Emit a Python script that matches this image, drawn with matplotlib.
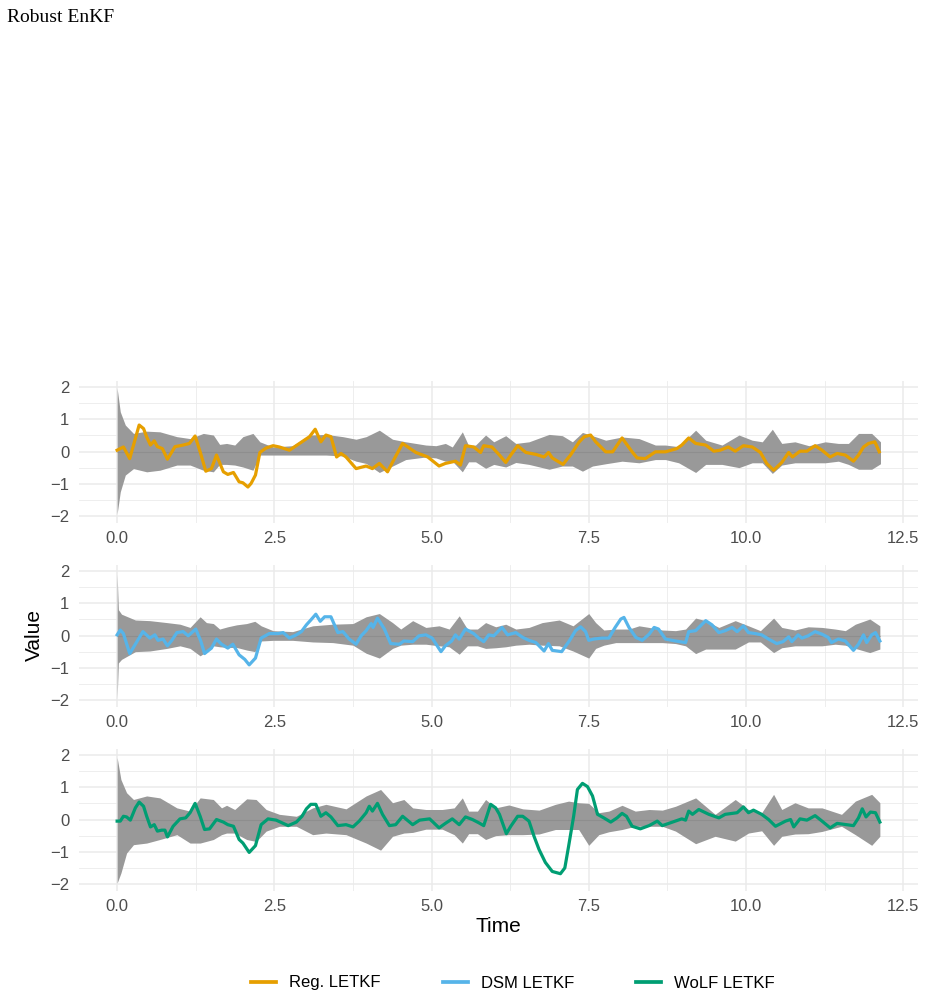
import numpy as np
import matplotlib
matplotlib.use("Agg")
import matplotlib.pyplot as plt
from matplotlib.ticker import MultipleLocator
from matplotlib.lines import Line2D

# ---- data ----
labels = ["Reg. LETKF", "DSM LETKF", "WoLF LETKF"]
colors = ["#E69F00", "#56B4E9", "#009E73"]

reg_t = [0, 0.1, 0.2, 0.35, 0.42, 0.47, 0.53, 0.59, 0.64, 0.72, 0.8, 0.92, 1.05, 1.15, 1.24,
         1.32, 1.41, 1.5, 1.58, 1.69, 1.76, 1.85, 1.94, 2.0, 2.08, 2.13, 2.2, 2.27, 2.37, 2.48,
         2.58, 2.74, 2.9, 3.06, 3.15, 3.24, 3.32, 3.4, 3.49, 3.56, 3.64, 3.8, 3.96, 4.06, 4.17,
         4.3, 4.41, 4.54, 4.75, 4.94, 5.12, 5.22, 5.38, 5.46, 5.54, 5.67, 5.78, 5.83, 5.96, 6.08,
         6.18, 6.26, 6.37, 6.5, 6.66, 6.79, 6.86, 6.92, 7.09, 7.21, 7.35, 7.43, 7.53, 7.61, 7.77,
         7.88, 8.03, 8.19, 8.27, 8.4, 8.56, 8.72, 8.9, 8.98, 9.09, 9.2, 9.36, 9.49, 9.59, 9.72,
         9.83, 9.96, 10.1, 10.23, 10.33, 10.44, 10.57, 10.68, 10.74, 10.86, 10.97, 11.1, 11.21,
         11.34, 11.45, 11.58, 11.71, 11.79, 11.87, 11.95, 12.05, 12.12]
reg_v = [0.04, 0.14, -0.22, 0.82, 0.71, 0.45, 0.2, 0.33, 0.15, 0.09, -0.24, 0.15, 0.2, 0.25, 0.48,
         -0.01, -0.61, -0.53, -0.11, -0.63, -0.71, -0.65, -0.94, -0.97, -1.1, -0.99, -0.73, -0.03, 0.11, 0.18,
         0.14, 0.04, 0.25, 0.46, 0.69, 0.3, 0.51, 0.46, -0.17, -0.06, -0.17, -0.53, -0.45, -0.53, -0.37,
         -0.63, -0.22, 0.25, -0.03, -0.17, -0.45, -0.37, -0.3, -0.42, 0.18, 0.14, -0.03, 0.18, 0.14, -0.11,
         -0.34, -0.11, 0.18, -0.03, -0.09, -0.17, -0.03, -0.2, -0.4, -0.11, 0.3, 0.46, 0.51, 0.3, -0.01,
         -0.01, 0.42, -0.01, -0.2, -0.22, -0.01, -0.01, 0.09, 0.2, 0.42, 0.25, 0.2, 0.01, 0.04, 0.14,
         0.01, 0.18, 0.14, -0.03, -0.37, -0.58, -0.34, -0.03, -0.17, 0.01, 0.01, 0.18, 0.04,
         -0.17, -0.06, -0.11, -0.3, -0.11, 0.14, 0.25, 0.3, -0.01]

dsm_t = [0, 0.05, 0.1, 0.2, 0.29, 0.41, 0.52, 0.6, 0.65, 0.73, 0.8, 0.87, 0.95, 1.05, 1.13,
         1.25, 1.33, 1.39, 1.5, 1.58, 1.66, 1.76, 1.84, 1.94, 2.03, 2.1, 2.2, 2.29, 2.42, 2.56,
         2.64, 2.74, 2.85, 2.93, 3.01, 3.08, 3.16, 3.23, 3.3, 3.4, 3.51, 3.59, 3.69, 3.8, 3.88,
         3.96, 4.04, 4.07, 4.14, 4.25, 4.35, 4.49, 4.56, 4.7, 4.8, 4.91, 5.01, 5.15, 5.22, 5.32,
         5.38, 5.44, 5.54, 5.67, 5.75, 5.83, 5.91, 5.99, 6.12, 6.21, 6.34, 6.45, 6.55, 6.66, 6.79,
         6.86, 6.92, 7.07, 7.19, 7.29, 7.37, 7.45, 7.5, 7.58, 7.71, 7.82, 7.92, 8.01, 8.06, 8.14,
         8.25, 8.35, 8.46, 8.54, 8.61, 8.72, 8.88, 9.04, 9.09, 9.2, 9.36, 9.46, 9.57, 9.67, 9.78,
         9.86, 9.96, 10.04, 10.15, 10.25, 10.36, 10.49, 10.59, 10.68, 10.73, 10.83, 10.89, 10.99,
         11.1, 11.21, 11.31, 11.36, 11.47, 11.58, 11.71, 11.79, 11.87, 11.92, 12.0, 12.06, 12.13]
dsm_v = [0.02, 0.17, 0.06, -0.56, -0.27, 0.12, -0.08, 0.02, -0.15, -0.11, -0.32, -0.15, 0.09, 0.12, -0.01,
         0.2, -0.17, -0.56, -0.39, -0.11, -0.27, -0.39, -0.27, -0.6, -0.74, -0.91, -0.7, -0.08, 0.06, 0.06,
         0.09, -0.08, 0.02, 0.12, 0.33, 0.48, 0.66, 0.44, 0.58, 0.58, 0.09, 0.12, -0.11, -0.27, -0.01,
         0.15, 0.37, 0.25, 0.54, 0.2, -0.25, -0.27, -0.17, -0.19, -0.01, 0.02, -0.08, -0.5, -0.32, -0.17,
         0.02, -0.11, 0.2, 0.06, -0.08, -0.19, 0.02, -0.01, 0.25, 0.02, 0.09, -0.06, -0.15, -0.22, -0.48,
         -0.25, -0.46, -0.5, -0.17, 0.15, 0.27, 0.12, -0.15, -0.11, -0.08, -0.08, 0.25, 0.51, 0.56, 0.25,
         -0.06, -0.15, 0.04, 0.25, 0.2, -0.11, -0.17, -0.22, 0.12, 0.15, 0.46, 0.33, 0.09, 0.15, 0.25,
         0.12, 0.3, 0.09, 0.06, 0.02, -0.11, -0.25, -0.19, -0.04, -0.19, 0.02, -0.08, -0.01,
         0.12, 0.04, -0.06, -0.22, -0.11, -0.17, -0.46, -0.27, 0.02, -0.22, 0.02, 0.09, -0.17]

wolf_t = [0, 0.05, 0.1, 0.15, 0.21, 0.29, 0.35, 0.42, 0.47, 0.53, 0.59, 0.64, 0.71, 0.76, 0.8,
          0.89, 1.0, 1.09, 1.16, 1.24, 1.32, 1.39, 1.47, 1.58, 1.69, 1.76, 1.85, 1.94, 2.0, 2.1,
          2.2, 2.29, 2.4, 2.53, 2.72, 2.85, 2.94, 3.01, 3.08, 3.16, 3.24, 3.32, 3.4, 3.51, 3.64,
          3.75, 3.85, 3.96, 4.01, 4.06, 4.14, 4.22, 4.33, 4.43, 4.54, 4.7, 4.81, 4.97, 5.12, 5.22,
          5.33, 5.44, 5.54, 5.65, 5.75, 5.83, 5.94, 6.02, 6.08, 6.19, 6.26, 6.37, 6.45, 6.55, 6.63,
          6.71, 6.81, 6.92, 7.05, 7.12, 7.18, 7.26, 7.32, 7.4, 7.48, 7.56, 7.64, 7.74, 7.85, 7.95,
          8.03, 8.1, 8.19, 8.32, 8.46, 8.59, 8.67, 8.83, 8.98, 9.04, 9.09, 9.15, 9.25, 9.41, 9.57,
          9.67, 9.86, 9.96, 10.04, 10.12, 10.25, 10.36, 10.47, 10.63, 10.71, 10.76, 10.86, 10.97,
          11.1, 11.21, 11.34, 11.45, 11.6, 11.71, 11.79, 11.85, 11.91, 11.98, 12.06, 12.13]
wolf_v = [-0.05, -0.05, 0.1, 0.08, -0.02, 0.36, 0.54, 0.41, 0.1, -0.23, -0.16, -0.36, -0.33, -0.33, -0.54,
          -0.21, 0.02, 0.05, 0.21, 0.5, 0.1, -0.31, -0.29, 0.0, -0.08, -0.16, -0.21, -0.62, -0.73, -1.02,
          -0.81, -0.16, 0.02, -0.02, -0.19, -0.08, 0.1, 0.33, 0.47, 0.47, 0.1, 0.21, 0.08, -0.19, -0.16,
          -0.23, -0.05, 0.21, 0.41, 0.26, 0.5, 0.16, -0.19, -0.16, 0.1, -0.16, -0.02, 0.02, -0.26, -0.12,
          0.02, -0.16, 0.08, 0.0, -0.1, -0.19, 0.47, 0.36, 0.16, -0.44, -0.21, 0.1, 0.1, -0.05, -0.52,
          -0.93, -1.33, -1.61, -1.68, -1.5, -0.83, 0.1, 0.93, 1.12, 1.02, 0.73, 0.16, 0.05, -0.08, 0.05,
          0.19, 0.1, -0.21, -0.29, -0.19, -0.05, -0.19, -0.08, 0.02, -0.02, 0.26, 0.16, 0.31, 0.16, 0.05,
          0.16, 0.21, 0.39, 0.21, 0.29, 0.16, 0.0, -0.21, -0.05, 0.0, -0.23, 0.02, -0.02,
          0.12, -0.05, -0.26, -0.12, -0.16, -0.19, 0.05, 0.33, 0.08, 0.23, 0.21, -0.08]

# ensemble spread bands (lower / upper edge)
reg_bt = [0, 0.05, 0.13, 0.26, 0.47, 0.68, 0.95, 1.16, 1.37, 1.53, 1.63, 1.74, 1.87, 2.0, 2.16,
          2.27, 2.48, 2.79, 3.06, 3.32, 3.59, 3.8, 3.96, 4.17, 4.38, 4.59, 4.91, 5.07, 5.22, 5.33,
          5.49, 5.59, 5.7, 5.86, 5.99, 6.18, 6.34, 6.55, 6.87, 7.08, 7.24, 7.4, 7.56, 7.77, 8.03,
          8.3, 8.56, 8.72, 8.93, 9.2, 9.36, 9.62, 9.89, 10.1, 10.26, 10.42, 10.57, 10.78, 11.0,
          11.26, 11.47, 11.63, 11.79, 12.0, 12.14]
reg_hi = [1.96, 1.23, 0.82, 0.56, 0.63, 0.61, 0.46, 0.40, 0.56, 0.51, 0.22, 0.25, 0.20, 0.46, 0.56,
          0.30, 0.14, 0.18, 0.51, 0.53, 0.46, 0.38, 0.46, 0.66, 0.38, 0.30, 0.20, 0.18, 0.25, 0.14,
          0.61, 0.18, 0.20, 0.51, 0.30, 0.49, 0.25, 0.30, 0.53, 0.49, 0.30, 0.59, 0.49, 0.35, 0.45,
          0.40, 0.20, 0.20, 0.15, 0.66, 0.35, 0.20, 0.51, 0.35, 0.30, 0.69, 0.25, 0.30, 0.18,
          0.30, 0.25, 0.25, 0.56, 0.56, 0.30]
reg_lo = [-1.93, -1.25, -0.73, -0.53, -0.63, -0.58, -0.42, -0.42, -0.58, -0.63, -0.40, -0.40, -0.42, -0.48, -0.58,
          -0.11, -0.11, -0.11, -0.11, -0.11, -0.14, -0.30, -0.37, -0.65, -0.45, -0.25, -0.17, -0.20, -0.30, -0.30,
          -0.63, -0.32, -0.32, -0.52, -0.40, -0.48, -0.34, -0.40, -0.55, -0.45, -0.45, -0.61, -0.45, -0.38, -0.30,
          -0.35, -0.25, -0.25, -0.35, -0.65, -0.40, -0.40, -0.50, -0.35, -0.35, -0.68, -0.42, -0.35, -0.35,
          -0.35, -0.30, -0.40, -0.55, -0.55, -0.38]

dsm_bt = [0, 0.02, 0.07, 0.29, 0.52, 0.79, 1.0, 1.16, 1.32, 1.42, 1.53, 1.63, 1.76, 1.9, 2.06,
          2.19, 2.29, 2.48, 2.79, 3.11, 3.43, 3.75, 3.96, 4.17, 4.38, 4.51, 4.7, 4.91, 5.12, 5.28,
          5.44, 5.57, 5.73, 5.86, 6.02, 6.18, 6.34, 6.55, 6.76, 7.03, 7.25, 7.5, 7.61, 7.74, 7.93,
          8.14, 8.3, 8.46, 8.67, 8.88, 9.04, 9.2, 9.36, 9.57, 9.83, 10.04, 10.23, 10.44, 10.57, 10.78,
          10.99, 11.21, 11.42, 11.58, 11.74, 11.97, 12.13]
dsm_hi = [1.9, 0.8, 0.66, 0.48, 0.46, 0.4, 0.35, 0.25, 0.58, 0.4, 0.37, 0.2, 0.27, 0.33, 0.37,
          0.44, 0.3, 0.15, 0.12, 0.3, 0.35, 0.37, 0.58, 0.68, 0.4, 0.2, 0.46, 0.25, 0.3, 0.2,
          0.61, 0.2, 0.2, 0.4, 0.27, 0.35, 0.2, 0.25, 0.4, 0.48, 0.3, 0.68, 0.4, 0.17, 0.2,
          0.2, 0.3, 0.25, 0.17, 0.15, 0.2, 0.54, 0.46, 0.25, 0.46, 0.3, 0.15, 0.54, 0.25, 0.17,
          0.27, 0.25, 0.2, 0.15, 0.35, 0.51, 0.3]
dsm_lo = [-1.93, -0.85, -0.74, -0.5, -0.48, -0.4, -0.32, -0.4, -0.63, -0.5, -0.32, -0.35, -0.37, -0.37, -0.45,
          -0.5, -0.17, -0.15, -0.15, -0.2, -0.22, -0.3, -0.55, -0.7, -0.4, -0.3, -0.27, -0.27, -0.32, -0.35,
          -0.58, -0.32, -0.32, -0.4, -0.38, -0.35, -0.3, -0.27, -0.3, -0.32, -0.48, -0.7, -0.4, -0.3, -0.22,
          -0.22, -0.22, -0.22, -0.22, -0.25, -0.32, -0.56, -0.42, -0.42, -0.42, -0.2, -0.2, -0.53, -0.38, -0.32,
          -0.32, -0.32, -0.27, -0.3, -0.4, -0.53, -0.42]

wolf_bt = [0, 0.06, 0.15, 0.26, 0.47, 0.68, 0.95, 1.16, 1.32, 1.53, 1.66, 1.74, 1.87, 2.06, 2.21,
           2.37, 2.58, 2.85, 3.11, 3.32, 3.64, 3.96, 4.19, 4.38, 4.56, 4.7, 4.91, 5.17, 5.36, 5.49,
           5.59, 5.73, 5.86, 6.02, 6.23, 6.45, 6.71, 6.97, 7.18, 7.34, 7.5, 7.66, 7.82, 8.03, 8.24,
           8.46, 8.67, 8.88, 9.2, 9.51, 9.83, 10.04, 10.25, 10.44, 10.57, 10.78, 10.99, 11.21, 11.52,
           11.74, 12.0, 12.13]
wolf_hi = [1.92, 1.24, 0.83, 0.62, 0.73, 0.67, 0.36, 0.26, 0.67, 0.62, 0.36, 0.44, 0.31, 0.64, 0.62,
           0.31, 0.16, 0.10, 0.36, 0.47, 0.33, 0.73, 0.93, 0.52, 0.62, 0.36, 0.31, 0.31, 0.36, 0.67,
           0.26, 0.26, 0.62, 0.36, 0.45, 0.33, 0.29, 0.47, 0.57, 0.52, 0.5, 0.21, 0.26, 0.44, 0.26,
           0.31, 0.29, 0.41, 0.67, 0.16, 0.62, 0.31, 0.21, 0.78, 0.31, 0.52, 0.36, 0.36, 0.16,
           0.57, 0.78, 0.52]
wolf_lo = [-1.97, -1.66, -1.04, -0.78, -0.73, -0.62, -0.47, -0.73, -0.73, -0.62, -0.47, -0.42, -0.42, -0.62, -0.68,
           -0.36, -0.21, -0.21, -0.47, -0.42, -0.47, -0.73, -0.95, -0.52, -0.42, -0.4, -0.3, -0.3, -0.47, -0.73,
           -0.44, -0.44, -0.62, -0.5, -0.47, -0.47, -0.45, -0.31, -0.31, -0.31, -0.8, -0.47, -0.38, -0.31, -0.21,
           -0.21, -0.21, -0.36, -0.75, -0.52, -0.67, -0.42, -0.35, -0.8, -0.52, -0.45, -0.44, -0.37, -0.21,
           -0.47, -0.8, -0.52]

series = [(reg_t, reg_v, reg_bt, reg_lo, reg_hi),
          (dsm_t, dsm_v, dsm_bt, dsm_lo, dsm_hi),
          (wolf_t, wolf_v, wolf_bt, wolf_lo, wolf_hi)]

xticks = [0.0, 2.5, 5.0, 7.5, 10.0, 12.5]
yticks = [-2, -1, 0, 1, 2]

plt.rcParams['font.family'] = ['Liberation Sans', 'DejaVu Sans']

fig = plt.figure(figsize=(9.28, 10), dpi=100)
W, H = 928.0, 1000.0

tmax = max(max(s[0]) for s in series)
xpad = 0.05 * tmax
panel_tops = [380.5, 564.5, 748.5]
ph = 142.0
left_px, right_px = 79.0, 918.0

for (t, v, bt, lo, hi), col, top in zip(series, colors, panel_tops):
    ax = fig.add_axes([left_px / W, 1 - (top + ph) / H, (right_px - left_px) / W, ph / H])
    ax.fill_between(bt, lo, hi, color="#999999", lw=0, zorder=2)
    # faint seam at zero inside the ribbon
    ax.hlines(0, min(bt), max(bt), color="#8E8E8E", lw=0.8, zorder=2.5)
    ax.plot(t, v, color=col, lw=2.3, zorder=3, solid_joinstyle="round")
    ax.set_xlim(-xpad, tmax + xpad)
    ax.set_ylim(-2.2, 2.2)
    ax.set_xticks(xticks)
    ax.set_xticklabels(["%.1f" % x for x in xticks])
    ax.set_yticks(yticks)
    ax.set_yticklabels([str(y).replace("-", "\u2212") for y in yticks])
    ax.xaxis.set_minor_locator(MultipleLocator(1.25))
    ax.yaxis.set_minor_locator(MultipleLocator(0.5))
    ax.grid(which="major", color="#EBEBEB", lw=1.1, zorder=0)
    ax.grid(which="minor", color="#EBEBEB", lw=0.6, zorder=0)
    ax.set_axisbelow(True)
    for s in ax.spines.values():
        s.set_visible(False)
    ax.tick_params(which="both", length=0, labelsize=12, labelcolor="#4D4D4D")
    ax.tick_params(axis="x", pad=6)
    ax.tick_params(axis="y", pad=7)

fig.text(7 / W, 1 - 18 / H, "Robust EnKF", family="Liberation Serif", fontsize=14,
         ha="left", va="center")
fig.text((left_px + right_px) / 2 / W, 1 - 926 / H, "Time", fontsize=15, ha="center", va="center")
fig.text(34 / W, 1 - 635 / H, "Value", fontsize=15, rotation=90, ha="center", va="center")

handles = [Line2D([], [], color=c, lw=2.7) for c in colors]
fig.legend(handles, labels, loc="center", bbox_to_anchor=(513 / W, 1 - 983 / H), ncol=3,
           frameon=False, fontsize=12, handlelength=1.5, handletextpad=0.8,
           columnspacing=3.7)

fig.savefig("out.png", dpi=100)
